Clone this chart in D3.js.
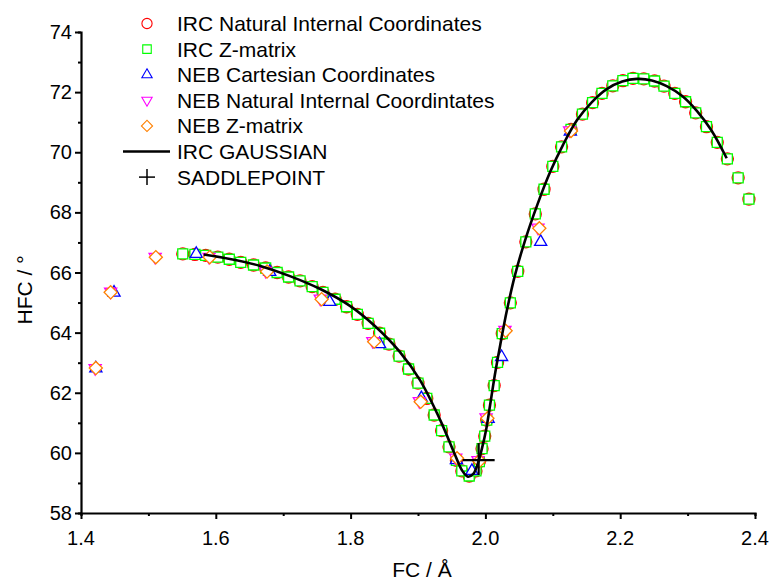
<!DOCTYPE html>
<html>
<head>
<meta charset="utf-8">
<script src="https://cdn.jsdelivr.net/npm/d3@7"></script>
<style>
  body { margin: 0; background: #fff; }
  svg { font-family: Arial, "Liberation Sans", sans-serif; }
</style>
</head>
<body>
<svg id="chart" width="772" height="582"></svg>
<script>
// series (FC in Å, HFC in degrees)
const ircNatural = [
    [1.551,66.62],[1.569,66.60],[1.585,66.57],[1.603,66.51],[1.620,66.44],[1.637,66.34],[1.656,66.25],
    [1.674,66.15],[1.691,66.00],[1.708,65.85],[1.725,65.72],[1.743,65.53],[1.759,65.34],[1.777,65.11],
    [1.794,64.86],[1.810,64.61],[1.826,64.31],[1.843,63.98],[1.857,63.62],[1.872,63.22],[1.886,62.79],
    [1.900,62.32],[1.913,61.81],[1.924,61.26],[1.935,60.74],[1.946,60.20],[1.957,59.75],[1.965,59.40],
    [1.976,59.23],[1.986,59.40],[1.991,59.71],[1.995,60.14],[1.999,60.56],[2.002,61.09],[2.006,61.59],
    [2.013,62.24],[2.018,63.01],[2.025,63.97],[2.037,64.99],[2.048,66.04],[2.060,67.02],[2.074,67.95],
    [2.087,68.77],[2.100,69.53],[2.113,70.18],[2.127,70.76],[2.144,71.27],[2.159,71.65],[2.173,71.96],
    [2.189,72.21],[2.204,72.38],[2.219,72.46],[2.235,72.44],[2.251,72.37],[2.265,72.20],[2.281,71.96],
    [2.297,71.68],[2.312,71.31],[2.328,70.85],[2.344,70.33],[2.359,69.78],[2.375,69.15],[2.391,68.44]
];
const ircZmatrix = [
    [1.551,66.62],[1.569,66.60],[1.585,66.57],[1.603,66.51],[1.620,66.44],[1.637,66.34],[1.656,66.25],
    [1.674,66.15],[1.691,66.00],[1.708,65.85],[1.725,65.72],[1.743,65.53],[1.759,65.34],[1.777,65.11],
    [1.794,64.86],[1.810,64.61],[1.826,64.31],[1.843,63.98],[1.857,63.62],[1.872,63.22],[1.886,62.79],
    [1.900,62.32],[1.913,61.81],[1.924,61.26],[1.935,60.74],[1.946,60.20],[1.957,59.75],[1.965,59.40],
    [1.976,59.23],[1.986,59.40],[1.991,59.71],[1.995,60.14],[1.999,60.56],[2.002,61.09],[2.006,61.59],
    [2.013,62.24],[2.018,63.01],[2.025,63.97],[2.037,64.99],[2.048,66.04],[2.060,67.02],[2.074,67.95],
    [2.087,68.77],[2.100,69.53],[2.113,70.18],[2.127,70.76],[2.144,71.27],[2.159,71.65],[2.173,71.96],
    [2.189,72.21],[2.204,72.38],[2.219,72.46],[2.235,72.44],[2.251,72.37],[2.265,72.20],[2.281,71.96],
    [2.297,71.68],[2.312,71.31],[2.328,70.85],[2.344,70.33],[2.359,69.78],[2.375,69.15],[2.391,68.44]
];
const nebCartesian = [
    [1.422,62.81],[1.449,65.33],[1.571,66.62],[1.680,66.02],[1.769,65.02],[1.843,63.62],[1.905,61.82],
    [1.957,59.76],[1.980,59.40],[2.004,61.13],[2.024,63.19],[2.082,67.02],[2.126,70.69]
];
const nebNatural = [
    [1.421,62.82],[1.444,65.36],[1.510,66.52],[1.590,66.52],[1.674,66.05],[1.755,65.13],[1.833,63.72],
    [1.902,61.72],[1.956,59.84],[1.989,59.76],[2.001,61.18],[2.029,64.09],[2.078,67.49],[2.125,70.73]
];
const nebZmatrix = [
    [1.422,62.82],[1.444,65.34],[1.511,66.51],[1.591,66.51],[1.676,66.03],[1.757,65.11],[1.835,63.70],
    [1.904,61.70],[1.958,59.82],[1.991,59.73],[2.003,61.15],[2.030,64.06],[2.080,67.47],[2.127,70.71]
];
const ircGaussian = [
    [1.582,66.60],[1.621,66.45],[1.666,66.22],[1.710,65.88],[1.755,65.45],[1.799,64.89],[1.836,64.22],
    [1.873,63.36],[1.903,62.42],[1.933,61.09],[1.955,59.93],[1.965,59.43],[1.974,59.21],[1.982,59.30],
    [1.989,59.66],[1.995,60.16],[2.001,60.76],[2.007,61.59],[2.014,62.59],[2.022,63.59],[2.032,64.75],
    [2.044,65.92],[2.059,67.08],[2.077,68.25],[2.096,69.34],[2.115,70.24],[2.136,71.07],[2.158,71.67],
    [2.180,72.10],[2.203,72.35],[2.225,72.44],[2.247,72.39],[2.269,72.20],[2.292,71.87],[2.314,71.37],
    [2.335,70.74],[2.358,69.80]
];
const saddlePoint = [[1.990,59.76]];

const legendLabels = [
    "IRC Natural Internal Coordinates",
    "IRC Z-matrix",
    "NEB Cartesian Coordinates",
    "NEB Natural Internal Coordintates",
    "NEB Z-matrix",
    "IRC GAUSSIAN",
    "SADDLEPOINT"
];
const xTicks = [1.4, 1.6, 1.8, 2.0, 2.2, 2.4];
const yTicks = [58, 60, 62, 64, 66, 68, 70, 72, 74];

const svg = d3.select("#chart");

const x = d3.scaleLinear().domain([1.4, 2.4]).range([81, 755]);
const y = d3.scaleLinear().domain([58, 74]).range([513, 32]);

// markers (Origin style: hollow, white filled)
const sq = d3.symbol().type(d3.symbolSquare).size(100)();
const circ = d3.symbol().type(d3.symbolCircle).size(113)();
const tri = d3.symbol().type(d3.symbolTriangle).size(64)();
const dia = d3.symbol().type(d3.symbolSquare).size(86)();

const series = [
    { data: ircNatural, path: circ, rot: 0, color: "#ff0000" },
    { data: ircZmatrix, path: sq, rot: 0, color: "#00ff00" },
    { data: nebCartesian, path: tri, rot: 0, color: "#0000ff" },
    { data: nebNatural, path: tri, rot: 180, color: "#ff00ff" },
    { data: nebZmatrix, path: dia, rot: 45, color: "#ff8000" }
];

series.forEach(s => {
    svg.append("g")
        .selectAll("path")
        .data(s.data)
        .enter()
        .append("path")
        .attr("d", s.path)
        .attr("transform", d => `translate(${x(d[0])},${y(d[1])}) rotate(${s.rot})`)
        .attr("fill", "white")
        .attr("stroke", s.color)
        .attr("stroke-width", 1.3);
});

// IRC GAUSSIAN line
const line = d3.line()
    .x(d => x(d[0]))
    .y(d => y(d[1]))
    .curve(d3.curveCatmullRom);

svg.append("path")
    .datum(ircGaussian)
    .attr("d", line)
    .attr("fill", "none")
    .attr("stroke", "black")
    .attr("stroke-width", 2.6);

// saddle point cross
const cross = svg.append("g")
    .selectAll("g")
    .data(saddlePoint)
    .enter()
    .append("g")
    .attr("transform", d => `translate(${x(d[0])},${y(d[1])})`);
cross.append("line").attr("x1", -16).attr("x2", 16).attr("stroke", "black").attr("stroke-width", 2.2);
cross.append("line").attr("y1", -17).attr("y2", 15).attr("stroke", "black").attr("stroke-width", 2.2);

// axes
const xAxis = svg.append("g").attr("transform", "translate(0,513)");
xAxis.call(d3.axisBottom(x).tickValues(d3.range(1.4, 2.45, 0.1)).tickSize(3).tickFormat(""));
xAxis.call(g => g.selectAll(".tick").filter(d => xTicks.some(t => Math.abs(t - d) < 1e-6)).select("line").attr("y2", 6));
xAxis.select(".domain").attr("stroke-width", 2.2);
xAxis.selectAll(".tick line").attr("stroke-width", 2);

const yAxis = svg.append("g").attr("transform", "translate(81,0)");
yAxis.call(d3.axisLeft(y).tickValues(d3.range(58, 74.5, 1)).tickSize(3).tickFormat(""));
yAxis.call(g => g.selectAll(".tick").filter(d => yTicks.includes(d)).select("line").attr("x2", -6));
yAxis.select(".domain").attr("stroke-width", 2.2);
yAxis.selectAll(".tick line").attr("stroke-width", 2);

svg.append("g")
    .selectAll("text")
    .data(xTicks)
    .enter()
    .append("text")
    .attr("x", d => x(d))
    .attr("y", 545)
    .attr("text-anchor", "middle")
    .style("font-size", "20px")
    .text(d => d.toFixed(1));

svg.append("g")
    .selectAll("text")
    .data(yTicks)
    .enter()
    .append("text")
    .attr("x", 72)
    .attr("y", d => y(d) + 7)
    .attr("text-anchor", "end")
    .style("font-size", "20px")
    .text(d => d);

svg.append("text")
    .attr("x", 422)
    .attr("y", 577)
    .attr("text-anchor", "middle")
    .style("font-size", "21px")
    .text("FC / Å");

svg.append("text")
    .attr("transform", "translate(32,290) rotate(-90)")
    .attr("text-anchor", "middle")
    .style("font-size", "21px")
    .text("HFC / °");

// legend
const legend = svg.append("g")
    .selectAll("g")
    .data(legendLabels)
    .enter()
    .append("g")
    .attr("transform", (d, i) => `translate(147, ${23.5 + i * 25.6})`);

legend.each(function(d, i) {
    const g = d3.select(this);
    if (i < 5) {
        const s = series[i];
        g.append("path")
            .attr("d", s.path)
            .attr("transform", `scale(0.85) rotate(${s.rot})`)
            .attr("fill", "white")
            .attr("stroke", s.color)
            .attr("stroke-width", 1.3);
    } else if (i === 5) {
        g.append("line").attr("x1", -24).attr("x2", 23).attr("stroke", "black").attr("stroke-width", 2.4);
    } else {
        g.append("line").attr("x1", -8).attr("x2", 8).attr("stroke", "black").attr("stroke-width", 1.5);
        g.append("line").attr("y1", -8).attr("y2", 8).attr("stroke", "black").attr("stroke-width", 1.5);
    }
    g.append("text")
        .attr("x", 30)
        .attr("y", 7.5)
        .style("font-size", "21px")
        .text(d);
});
</script>
</body>
</html>
